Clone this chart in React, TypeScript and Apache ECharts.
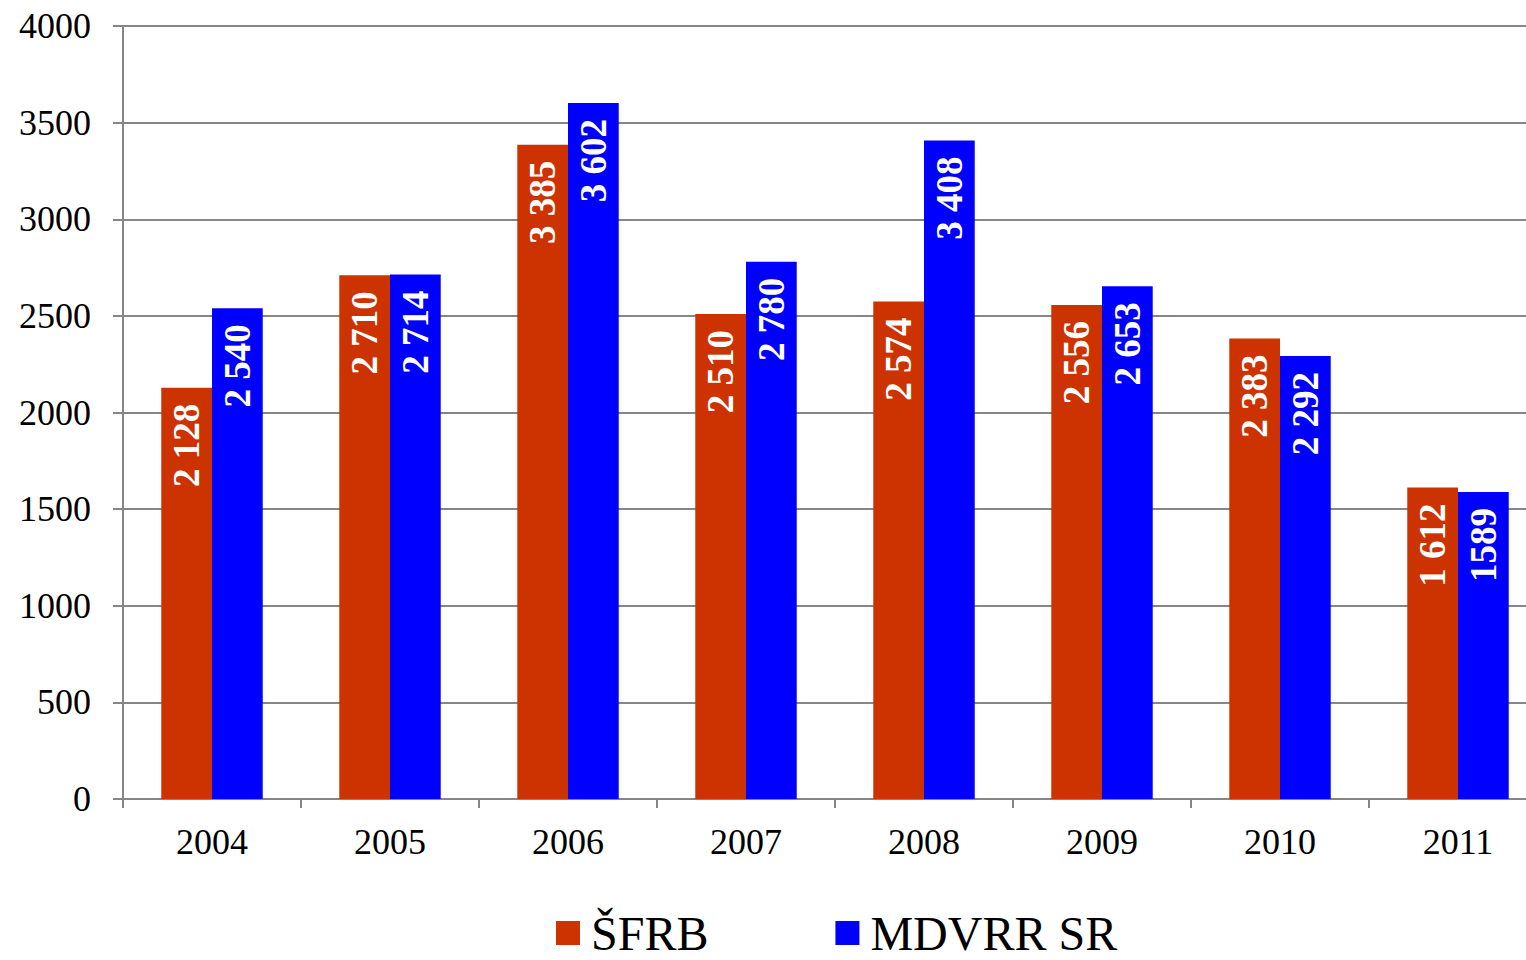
import React, { useEffect, useRef } from "react";
import * as echarts from "echarts";

const years = ["2004", "2005", "2006", "2007", "2008", "2009", "2010", "2011"];
const sfrbValues = [2128, 2710, 3385, 2510, 2574, 2556, 2383, 1612];
const mdvrrValues = [2540, 2714, 3602, 2780, 3408, 2653, 2292, 1589];
const sfrbLabels = ["2 128", "2 710", "3 385", "2 510", "2 574", "2 556", "2 383", "1 612"];
const mdvrrLabels = ["2 540", "2 714", "3 602", "2 780", "3 408", "2 653", "2 292", "1589"];
const seriesNames = ["ŠFRB", "MDVRR SR"];

const FONT = "'Liberation Serif', 'Times New Roman', serif";

export default function App() {
  const ref = useRef<HTMLDivElement>(null);
  useEffect(() => {
    document.body.style.margin = "0";
    const chart = echarts.init(ref.current!, null, { renderer: "svg" });
    const labelCfg = (labels: string[]) => ({
      show: true,
      position: "insideTop",
      rotate: 90,
      align: "right",
      verticalAlign: "middle",
      distance: 16,
      color: "#ffffff",
      fontFamily: FONT,
      fontWeight: "bold",
      fontSize: 37,
      formatter: (p: any) => labels[p.dataIndex],
    });
    chart.setOption({
      animation: false,
      backgroundColor: "#ffffff",
      grid: { left: 123, right: 0, top: 26, bottom: 161, containLabel: false },
      legend: {
        left: 551,
        top: 904,
        itemWidth: 24,
        itemHeight: 24,
        itemGap: 127,
        icon: "rect",
        textStyle: { fontFamily: FONT, fontSize: 48, lineHeight: 48, color: "#000000", padding: [0, 0, 0, 6] },
        data: seriesNames,
      },
      xAxis: {
        type: "category",
        data: years,
        axisLine: { show: true, lineStyle: { color: "#868686", width: 2 } },
        axisTick: { show: true, alignWithLabel: false, length: 9, lineStyle: { color: "#868686", width: 2 } },
        axisLabel: { fontFamily: FONT, fontSize: 36, color: "#000000", margin: 25 },
      },
      yAxis: {
        type: "value",
        min: 0,
        max: 4000,
        interval: 500,
        axisLine: { show: true, lineStyle: { color: "#868686", width: 2 } },
        axisTick: { show: true, length: 10, lineStyle: { color: "#868686", width: 2 } },
        splitLine: { show: true, lineStyle: { color: "#868686", width: 2 } },
        axisLabel: {
          fontFamily: FONT,
          fontSize: 36,
          color: "#000000",
          margin: 32,
          formatter: (v: number) => String(v),
        },
      },
      series: [
        {
          name: seriesNames[0],
          type: "bar",
          data: sfrbValues,
          barGap: "0%",
          barCategoryGap: "43%",
          itemStyle: { color: "#CC3300" },
          label: labelCfg(sfrbLabels),
        },
        {
          name: seriesNames[1],
          type: "bar",
          data: mdvrrValues,
          barGap: "0%",
          barCategoryGap: "43%",
          itemStyle: { color: "#0000FF" },
          label: labelCfg(mdvrrLabels),
        },
      ],
    });
    return () => chart.dispose();
  }, []);
  return (
    <div style={{ width: 1526, height: 960, overflow: "hidden", position: "relative" }}>
      <div ref={ref} style={{ width: 1547, height: 960 }} />
    </div>
  );
}
